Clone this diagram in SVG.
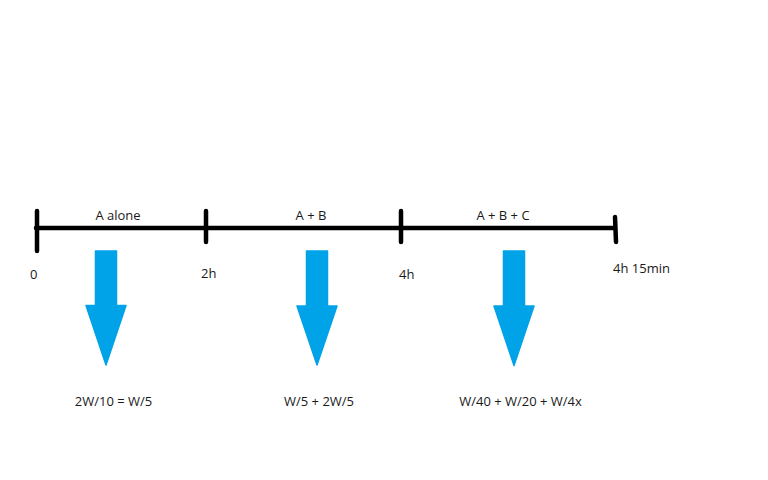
<svg xmlns="http://www.w3.org/2000/svg" width="768" height="480" viewBox="0 0 768 480">
<style>
.t{font-family:"Open Sans","Noto Sans","Liberation Sans",sans-serif;font-size:13px;fill:#1a1a1a;text-anchor:middle}
.tl{text-anchor:start}
.ax{stroke:#000;stroke-width:4.5;stroke-linecap:round;fill:none}
.arr{fill:#00a2e8;stroke:#00a2e8;stroke-width:1.5;stroke-linejoin:round}
</style>
<rect width="768" height="480" fill="#fff"/>
<g id="connectors">
<line class="ax" x1="36" y1="228" x2="615" y2="228"/>
<line class="ax" x1="37" y1="211" x2="37" y2="251"/>
<line class="ax" x1="206" y1="211" x2="206" y2="242"/>
<line class="ax" x1="401" y1="211" x2="401" y2="242"/>
<line class="ax" x1="615" y1="217" x2="616" y2="242"/>
</g>
<g id="segment-a">
<text class="t" x="118" y="220">A alone</text>
</g>
<g id="segment-ab">
<text class="t" x="311" y="220">A + B</text>
</g>
<g id="segment-abc">
<text class="t" x="503" y="220">A + B + C</text>
</g>
<g id="tick-labels">
<text class="t tl" x="30" y="279">0</text>
<text class="t tl" x="201" y="278">2h</text>
<text class="t tl" x="399" y="279">4h</text>
<text class="t tl" x="613" y="273">4h 15min</text>
</g>
<g id="arrow-1">
<path class="arr" d="M95.5,251 H116.5 V305.5 H126 L106,365 L86,305.5 H95.5 Z"/>
<text class="t" x="113.5" y="406">2W/10 = W/5</text>
</g>
<g id="arrow-2">
<path class="arr" d="M306.5,251 H327.5 V306 H337 L317,365 L297,306 H306.5 Z"/>
<text class="t" x="319" y="406">W/5 + 2W/5</text>
</g>
<g id="arrow-3">
<path class="arr" d="M503.5,251 H524.5 V306 H534 L514,365.5 L494,306 H503.5 Z"/>
<text class="t" x="520.5" y="406">W/40 + W/20 + W/4x</text>
</g>
</svg>
